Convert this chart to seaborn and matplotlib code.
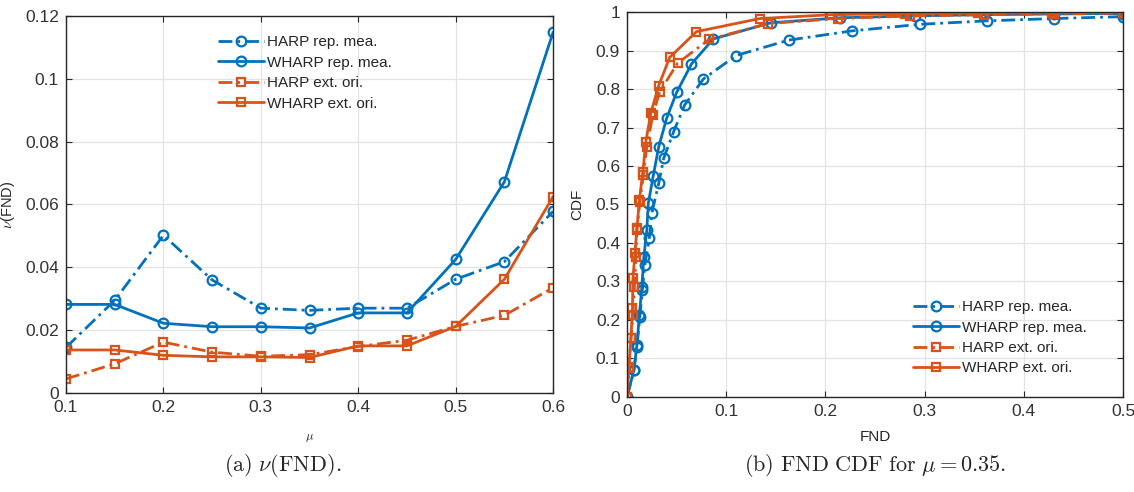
import numpy as np
import pandas as pd
import matplotlib
matplotlib.use("Agg")
import matplotlib.pyplot as plt
import seaborn as sns

sns.set_theme(style="ticks")
plt.rcParams["font.family"] = ["Liberation Sans", "DejaVu Sans"]
plt.rcParams["mathtext.fontset"] = "cm"

blue = "#0072BD"
orange = "#D95319"
axcol = "#262626"

# ---- (a) nu(FND) vs mu ----
mu = [0.1, 0.15, 0.2, 0.25, 0.3, 0.35, 0.4, 0.45, 0.5, 0.55, 0.6]
harp_rep = [0.0145, 0.0295, 0.0502, 0.0360, 0.0270, 0.0263, 0.0270, 0.0270, 0.0362, 0.0418, 0.0578]
wharp_rep = [0.0282, 0.0282, 0.0222, 0.0211, 0.0211, 0.0207, 0.0255, 0.0255, 0.0425, 0.0672, 0.1148]
harp_ext = [0.0045, 0.0093, 0.0162, 0.0130, 0.0117, 0.0122, 0.0148, 0.0168, 0.0212, 0.0247, 0.0335]
wharp_ext = [0.0137, 0.0137, 0.0120, 0.0115, 0.0115, 0.0113, 0.0150, 0.0150, 0.0212, 0.0362, 0.0625]

# ---- (b) FND CDF for mu = 0.35 ----
harp_rep_x = [0, 0.007, 0.010, 0.013, 0.0155, 0.018, 0.0225, 0.025, 0.032, 0.037, 0.047, 0.058,
              0.077, 0.110, 0.163, 0.227, 0.295, 0.363, 0.430, 0.500]
harp_rep_y = [0, 0.070, 0.131, 0.209, 0.278, 0.343, 0.412, 0.477, 0.555, 0.620, 0.689, 0.758,
              0.826, 0.887, 0.927, 0.951, 0.968, 0.977, 0.983, 0.988]
wharp_rep_x = [0, 0.007, 0.010, 0.0125, 0.015, 0.017, 0.020, 0.0215, 0.0265, 0.032, 0.040, 0.050,
               0.065, 0.087, 0.145, 0.215, 0.290, 0.360, 0.430, 0.500]
wharp_rep_y = [0, 0.070, 0.135, 0.213, 0.286, 0.364, 0.434, 0.503, 0.575, 0.650, 0.724, 0.791,
               0.865, 0.930, 0.972, 0.985, 0.990, 0.993, 0.995, 0.996]
harp_ext_x = [0, 0.002, 0.004, 0.006, 0.0075, 0.009, 0.010, 0.013, 0.0165, 0.020, 0.026, 0.033,
              0.051, 0.083, 0.142, 0.213, 0.285, 0.360, 0.430, 0.500]
harp_ext_y = [0, 0.075, 0.152, 0.213, 0.286, 0.364, 0.434, 0.507, 0.577, 0.650, 0.732, 0.793,
              0.867, 0.929, 0.970, 0.983, 0.990, 0.993, 0.995, 0.997]
wharp_ext_x = [0, 0.002, 0.004, 0.0055, 0.006, 0.008, 0.010, 0.0125, 0.016, 0.019, 0.024, 0.032,
               0.043, 0.070, 0.134, 0.206, 0.280, 0.354, 0.428, 0.500]
wharp_ext_y = [0, 0.079, 0.152, 0.230, 0.308, 0.373, 0.438, 0.512, 0.585, 0.663, 0.737, 0.809,
               0.882, 0.949, 0.983, 0.993, 0.996, 0.997, 0.998, 0.999]

labels = ["HARP rep. mea.", "WHARP rep. mea.", "HARP ext. ori.", "WHARP ext. ori."]
colors = [blue, blue, orange, orange]
markers = ["o", "o", "s", "s"]
dashed = [True, False, True, False]


def style_axes(ax):
    ax.grid(True, color="#e3e3e3", linewidth=0.9)
    ax.set_axisbelow(True)
    for s in ax.spines.values():
        s.set_color(axcol)
        s.set_linewidth(1.0)
        s.set_visible(True)
    ax.tick_params(direction="in", top=True, right=True, length=4, width=0.8,
                   colors=axcol, labelsize=12.5, labelcolor="#333333", pad=5)


def draw(ax, xs, ys):
    for x, y, lab, c, m, d in zip(xs, ys, labels, colors, markers, dashed):
        df = pd.DataFrame({"x": x, "y": y})
        line_kw = dict(dashes=(5, 1.8, 1, 1.8)) if d else dict(linestyle="-")
        sns.lineplot(data=df, x="x", y="y", ax=ax, color=c, label=lab, lw=2,
                     marker=m, markersize=7 if m == "o" else 6, mfc="none", mec=c, mew=1.6,
                     estimator=None, sort=False, **line_kw)


fig = plt.figure(figsize=(11.34, 4.92), dpi=100)
ax1 = fig.add_axes([0.0582, 0.2012, 0.4295, 0.7663])
ax2 = fig.add_axes([0.5529, 0.1931, 0.4374, 0.7825])

draw(ax1, [mu] * 4, [harp_rep, wharp_rep, harp_ext, wharp_ext])
ax1.set_xlim(0.1, 0.6)
ax1.set_ylim(0, 0.12)
ax1.set_xticks([0.1, 0.2, 0.3, 0.4, 0.5, 0.6])
ax1.set_xticklabels(["0.1", "0.2", "0.3", "0.4", "0.5", "0.6"])
ax1.set_yticks([0, 0.02, 0.04, 0.06, 0.08, 0.1, 0.12])
ax1.set_yticklabels(["0", "0.02", "0.04", "0.06", "0.08", "0.1", "0.12"])
ax1.set_xlabel(r"$\mu$", fontsize=9, color=axcol, labelpad=12)
ax1.set_ylabel(r"$\nu$(FND)", fontsize=10.5, color=axcol, labelpad=6)
style_axes(ax1)
leg1 = ax1.legend(loc="upper left", bbox_to_anchor=(0.30, 0.965), frameon=False,
                  fontsize=11, handlelength=3.0, handletextpad=0.2, labelspacing=0.42,
                  borderaxespad=0)

draw(ax2, [harp_rep_x, wharp_rep_x, harp_ext_x, wharp_ext_x],
     [harp_rep_y, wharp_rep_y, harp_ext_y, wharp_ext_y])
ax2.set_xlim(0, 0.5)
ax2.set_ylim(0, 1)
ax2.set_xticks([0, 0.1, 0.2, 0.3, 0.4, 0.5])
ax2.set_xticklabels(["0", "0.1", "0.2", "0.3", "0.4", "0.5"])
ax2.set_yticks(np.round(np.arange(0, 1.01, 0.1), 1))
ax2.set_yticklabels(["0", "0.1", "0.2", "0.3", "0.4", "0.5", "0.6", "0.7", "0.8", "0.9", "1"])
ax2.set_xlabel("FND", fontsize=11, color=axcol, labelpad=8)
ax2.set_ylabel("CDF", fontsize=11, color=axcol, labelpad=8)
style_axes(ax2)
leg2 = ax2.legend(loc="lower left", bbox_to_anchor=(0.565, 0.04), frameon=False,
                  fontsize=11, handlelength=3.0, handletextpad=0.2, labelspacing=0.42,
                  borderaxespad=0)

for t in leg1.get_texts() + leg2.get_texts():
    t.set_color(axcol)

fig.text(0.2495, 0.053, r"$\mathrm{(a)}\ \nu(\mathrm{FND}).$", ha="center", va="center",
         fontsize=16)
fig.text(0.7716, 0.053, r"$\mathrm{(b)\ FND\ CDF\ for}\ \mu = 0.35.$", ha="center", va="center",
         fontsize=16)

fig.savefig("out.png", dpi=100)
